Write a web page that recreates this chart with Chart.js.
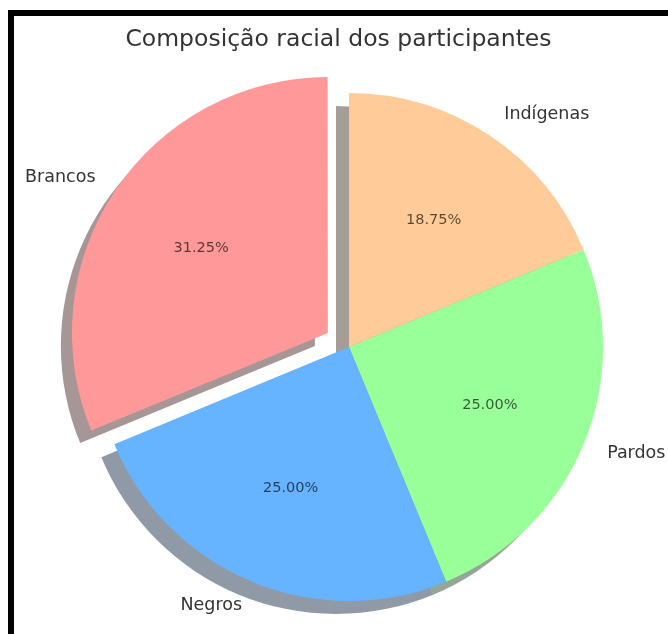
<!DOCTYPE html>
<html>
<head>
<meta charset="utf-8">
<script src="https://cdn.jsdelivr.net/npm/chart.js@4.4.1/dist/chart.umd.min.js"></script>
<style>
  html, body { margin: 0; padding: 0; background: #ffffff; }
  canvas { display: block; }
</style>
</head>
<body>
<canvas id="pie" width="668" height="634"></canvas>
<script>
// Slices listed clockwise from the top of the pie
const categories = ['Indígenas', 'Pardos', 'Negros', 'Brancos'];
const participants = [3, 4, 4, 5];
const sliceColors = ['#ffcc99', '#99ff99', '#66b3ff', '#ff9999'];
const explode = [0, 0, 0, 0.1];
const chartTitle = 'Composição racial dos participantes';

const RADIUS = 254;
const SHADOW_DX = -13, SHADOW_DY = 13;
const FONT = '"DejaVu Sans", "Liberation Sans", sans-serif';

function hexToRgb(h) {
  const n = parseInt(h.slice(1), 16);
  return [(n >> 16) & 255, (n >> 8) & 255, n & 255];
}

// shift of an exploded arc (Chart.js moves an arc by offset/4 along its mid angle)
function arcShift(arc) {
  const mid = (arc.startAngle + arc.endAngle) / 2;
  const off = (arc.options.offset || 0) / 4;
  return [Math.cos(mid) * off, Math.sin(mid) * off, mid];
}

const framePlugin = {
  id: 'frame',
  beforeDraw(chart) {
    const ctx = chart.ctx;
    ctx.save();
    ctx.fillStyle = '#ffffff';
    ctx.fillRect(0, 0, chart.width, chart.height);
    ctx.fillStyle = '#000000';
    ctx.fillRect(8, 10, chart.width - 8, 6);
    ctx.fillRect(8, 10, 6, chart.height - 10);
    ctx.fillStyle = '#333333';
    ctx.font = '23.5px ' + FONT;
    ctx.textAlign = 'center';
    ctx.textBaseline = 'alphabetic';
    ctx.fillText(chartTitle, 338.5, 46);
    ctx.restore();
  }
};

const shadowPlugin = {
  id: 'pieShadow',
  beforeDatasetsDraw(chart) {
    const ctx = chart.ctx;
    const meta = chart.getDatasetMeta(0);
    ctx.save();
    meta.data.forEach((arc, i) => {
      const [sx, sy] = arcShift(arc);
      const [r, g, b] = hexToRgb(sliceColors[i]);
      ctx.fillStyle = `rgba(${Math.round(r * 0.3)},${Math.round(g * 0.3)},${Math.round(b * 0.3)},0.5)`;
      const cx = arc.x + sx + SHADOW_DX, cy = arc.y + sy + SHADOW_DY;
      ctx.beginPath();
      ctx.moveTo(cx, cy);
      ctx.arc(cx, cy, arc.outerRadius, arc.startAngle, arc.endAngle);
      ctx.closePath();
      ctx.fill();
    });
    ctx.restore();
  }
};

const labelPlugin = {
  id: 'pieLabels',
  afterDatasetsDraw(chart) {
    const ctx = chart.ctx;
    const meta = chart.getDatasetMeta(0);
    const total = participants.reduce((a, b) => a + b, 0);
    ctx.save();
    ctx.textBaseline = 'middle';
    meta.data.forEach((arc, i) => {
      const [sx, sy, mid] = arcShift(arc);
      const cx = arc.x + sx, cy = arc.y + sy;
      const r = arc.outerRadius;
      const c = Math.cos(mid), s = Math.sin(mid);
      // category name outside the slice
      ctx.font = '17.5px ' + FONT;
      ctx.fillStyle = '#333333';
      ctx.textAlign = c >= 0 ? 'left' : 'right';
      ctx.fillText(categories[i], cx + 1.1 * r * c, cy + 1.1 * r * s);
      // share inside the slice
      ctx.font = '14.5px ' + FONT;
      ctx.fillStyle = 'rgba(0,0,0,0.65)';
      ctx.textAlign = 'center';
      const pct = (participants[i] / total * 100).toFixed(2) + '%';
      ctx.fillText(pct, cx + 0.6 * r * c, cy + 0.6 * r * s);
    });
    ctx.restore();
  }
};

new Chart(document.getElementById('pie'), {
  type: 'pie',
  data: {
    labels: categories,
    datasets: [{
      data: participants,
      backgroundColor: sliceColors,
      borderWidth: 0,
      offset: explode.map(e => e * RADIUS * 4),
      radius: RADIUS,
      clip: false
    }]
  },
  options: {
    responsive: false,
    animation: false,
    devicePixelRatio: 1,
    layout: { padding: { left: 30, right: 0, top: 60, bottom: 0 } },
    plugins: {
      legend: { display: false },
      title: { display: false },
      tooltip: { enabled: false }
    }
  },
  plugins: [framePlugin, shadowPlugin, labelPlugin]
});
</script>
</body>
</html>
